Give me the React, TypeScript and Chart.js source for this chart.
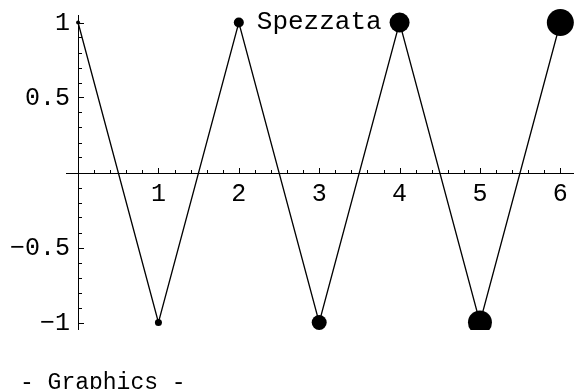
import React, { useEffect, useRef } from "react";
import { Chart, registerables } from "chart.js";

Chart.register(...registerables);

const xValues = [0, 1, 2, 3, 4, 5, 6];
const yValues = [1, -1, 1, -1, 1, -1, 1];
const pointRadii = [2, 3.5, 5, 7.5, 10, 12, 13.5];
const xTickValues = [1, 2, 3, 4, 5, 6];
const xTickLabels = ["1", "2", "3", "4", "5", "6"];
const yTickValues = [-1, -0.5, 0.5, 1];
const yTickLabels = ["\u22121", "\u22120.5", "0.5", "1"];
const labelText = "Spezzata";
const labelPos = { x: 3, y: 1 };
const footerText = "- Graphics -";

const FONT = "'Liberation Mono', 'DejaVu Sans Mono', monospace";

export default function App() {
  const ref = useRef<HTMLCanvasElement | null>(null);

  useEffect(() => {
    document.body.style.margin = "0";
    const canvas = ref.current;
    if (!canvas) return;

    const axesPlugin = {
      id: "mmaAxes",
      beforeDatasetsDraw(chart: any) {
        const { ctx, chartArea } = chart;
        const xs = chart.scales.x;
        const ys = chart.scales.y;
        const x0 = xs.getPixelForValue(0);
        const y0 = ys.getPixelForValue(0);
        ctx.save();
        ctx.strokeStyle = "#000";
        ctx.lineWidth = 1;
        ctx.beginPath();
        ctx.moveTo(chartArea.left, Math.round(y0) + 0.5);
        ctx.lineTo(chartArea.right, Math.round(y0) + 0.5);
        ctx.moveTo(Math.round(x0) + 0.5, chartArea.top);
        ctx.lineTo(Math.round(x0) + 0.5, chartArea.bottom);
        ctx.stroke();
        ctx.beginPath();
        for (let i = 1; i <= 40; i++) {
          const v = i * 0.2;
          const px = Math.round(xs.getPixelForValue(v)) + 0.5;
          if (px > chartArea.right) break;
          const major = i % 5 === 0;
          const len = major ? 5 : 3;
          ctx.moveTo(px, Math.round(y0));
          ctx.lineTo(px, Math.round(y0) - len);
        }
        for (let i = -10; i <= 10; i++) {
          if (i === 0) continue;
          const v = i * 0.1;
          const py = Math.round(ys.getPixelForValue(v)) + 0.5;
          const major = i % 5 === 0;
          const len = major ? 5 : 3;
          ctx.moveTo(Math.round(x0) + 1, py);
          ctx.lineTo(Math.round(x0) + 1 + len, py);
        }
        ctx.stroke();
        ctx.fillStyle = "#000";
        ctx.font = "25px " + FONT;
        ctx.textAlign = "center";
        ctx.textBaseline = "middle";
        xTickValues.forEach((v, i) => {
          ctx.fillText(xTickLabels[i], xs.getPixelForValue(v), y0 + 22);
        });
        ctx.textAlign = "right";
        yTickValues.forEach((v, i) => {
          ctx.fillText(yTickLabels[i], x0 - 8, ys.getPixelForValue(v) + 1);
        });
        ctx.restore();
      },
      afterDraw(chart: any) {
        const { ctx } = chart;
        const xs = chart.scales.x;
        const ys = chart.scales.y;
        ctx.save();
        ctx.fillStyle = "#000";
        ctx.font = "26px " + FONT;
        ctx.textAlign = "center";
        ctx.textBaseline = "middle";
        ctx.fillText(labelText, xs.getPixelForValue(labelPos.x), ys.getPixelForValue(labelPos.y));
        ctx.textAlign = "left";
        ctx.textBaseline = "alphabetic";
        ctx.font = "23px " + FONT;
        ctx.fillText(footerText, 20, 389);
        ctx.restore();
      },
    };

    const chart = new Chart(canvas, {
      type: "scatter",
      data: {
        datasets: [
          {
            data: xValues.map((x, i) => ({ x, y: yValues[i] })),
            showLine: true,
            borderColor: "#000",
            borderWidth: 1.3,
            backgroundColor: "#000",
            pointBackgroundColor: "#000",
            pointBorderWidth: 0,
            pointRadius: pointRadii,
            pointHoverRadius: pointRadii,
            tension: 0,
            clip: { left: 20, top: 20, right: 20, bottom: 0 } as any,
          },
        ],
      },
      options: {
        responsive: false,
        animation: false,
        devicePixelRatio: 1,
        layout: { autoPadding: false, padding: { left: 66, top: 15, right: 0, bottom: 59 } },
        plugins: {
          legend: { display: false },
          tooltip: { enabled: false },
          title: { display: false },
        },
        events: [],
        scales: {
          x: { type: "linear", min: -0.15, max: 6.17, display: false },
          y: { type: "linear", min: -1.05, max: 1.05, display: false },
        },
      },
      plugins: [axesPlugin],
    });

    return () => {
      chart.destroy();
    };
  }, []);

  return (
    <canvas
      ref={ref}
      width={574}
      height={389}
      style={{ display: "block", width: 574, height: 389 }}
    />
  );
}
